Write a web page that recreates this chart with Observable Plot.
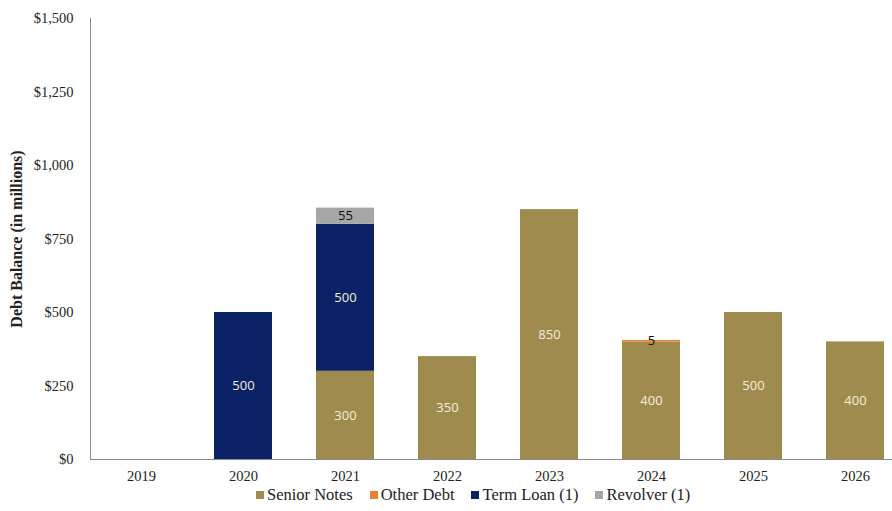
<!DOCTYPE html>
<html><head><meta charset="utf-8">
<script src="https://cdn.jsdelivr.net/npm/d3@7"></script>
<script src="https://cdn.jsdelivr.net/npm/@observablehq/plot@0.6"></script>
<style>
body{margin:0;background:#fff;}
#wrap{position:relative;width:892px;height:511px;overflow:hidden;}
#legend{position:absolute;left:256px;top:485px;font-family:'Liberation Serif',serif;font-size:16.5px;color:#222;display:flex;gap:17px;white-space:nowrap;}
#legend span.sw{display:inline-block;width:8px;height:8px;margin-right:3px;vertical-align:1px;}
</style></head>
<body><div id="wrap"><div id="chart"></div><div id="legend"></div></div>
<script>
const years = ["2019","2020","2021","2022","2023","2024","2025","2026"];
const seriesNames = ["Senior Notes","Other Debt","Term Loan (1)","Revolver (1)"];
const seniorNotes = [0,0,300,350,850,400,500,400];
const otherDebt   = [0,0,0,0,0,5,0,0];
const termLoan    = [0,500,500,0,0,0,0,0];
const revolver    = [0,0,55,0,0,0,0,0];
const yTicks = [0,250,500,750,1000,1250,1500];
const colors = ["#A08B4F","#ED7D31","#0B2366","#A6A6A6"];
const labelColors = ["#F3EEDD","#111","#F3EEDD","#111"];

const cols = [seniorNotes, otherDebt, termLoan, revolver];
const data = [];
years.forEach((y,i)=>{
  seriesNames.forEach((s,j)=>{
    if (cols[j][i] > 0) data.push({year:y, series:s, value:cols[j][i]});
  });
});

const chart = Plot.plot({
  width: 892, height: 485,
  marginLeft: 90, marginRight: 0, marginTop: 18, marginBottom: 26,
  x: {domain: years, range:[90,906], paddingInner: 0.43, paddingOuter: 0.215, label: null},
  y: {domain:[0,1500], label:null},
  color: {domain: seriesNames, range: colors},
  style: {fontFamily: "'Liberation Serif','Times New Roman',serif", fontSize: "14px", color:"#222"},
  marks: [
    Plot.barY(data, {x:"year", y:"value", fill:"series", order: seriesNames}),
    Plot.text(data, Plot.stackY({x:"year", y:"value", z:"series", order: seriesNames, text: d=>String(d.value),
      fill: d=>labelColors[seriesNames.indexOf(d.series)],
      fontFamily:"'Open Sans','Noto Sans',sans-serif", fontSize: 13})),
    Plot.axisY({ticks: yTicks, tickFormat: d=>"$"+d3.format(",")(d), tickSize:0, tickPadding:17, fontSize:14.5,
      label:"Debt Balance (in millions)", labelAnchor:"center", labelArrow:"none", labelOffset:80}),
    Plot.axisX({tickSize:0, tickPadding:11, fontSize:14.5, label:null}),
    Plot.frame({anchor:"left", stroke:"#8c8c8c"}),
    Plot.ruleY([0], {stroke:"#8c8c8c"})
  ]
});
document.getElementById("chart").appendChild(chart);
chart.querySelectorAll("g[aria-label='y-axis label'] text").forEach(t=>{
  t.setAttribute("font-weight","bold");
  t.setAttribute("font-size","16");
  t.setAttribute("font-family","'Liberation Serif','Times New Roman',serif");
});

const lg = document.getElementById("legend");
seriesNames.forEach((s,j)=>{
  const d = document.createElement("div");
  d.innerHTML = `<span class="sw" style="background:${colors[j]}"></span>${s}`;
  lg.appendChild(d);
});
</script></body></html>
